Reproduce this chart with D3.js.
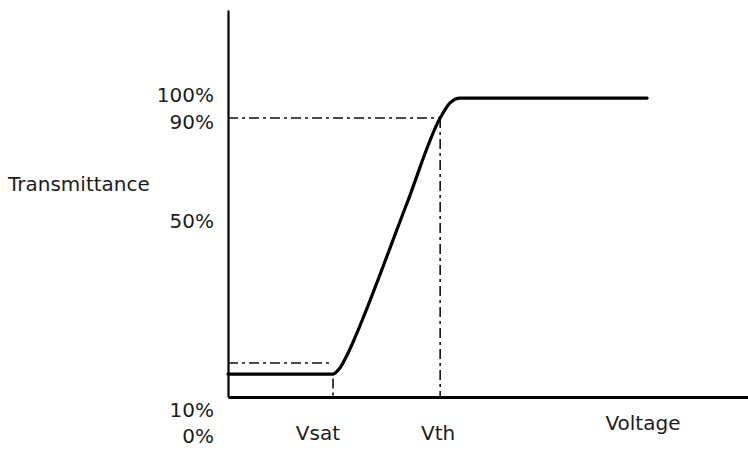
<!DOCTYPE html>
<html>
<head>
<meta charset="utf-8">
<script src="https://cdn.jsdelivr.net/npm/d3@7"></script>
<style>
  html, body { margin: 0; padding: 0; background: #fff; }
  svg { display: block; }
  text { font-family: "DejaVu Sans", Verdana, sans-serif; fill: #1c1c1c; }
</style>
</head>
<body>
<svg id="chart" width="748" height="451"></svg>
<script>
// ---- data (voltage in arbitrary units, transmittance in %) ----
const curveVoltage = [0, 2.02, 2.15, 2.31, 2.48, 2.62, 3.44, 4.08, 4.27, 4.46, 4.6, 8.06];
const curveTransmittance = [7.7, 7.7, 9.7, 14.8, 21.5, 27.5, 65.0, 93.7, 98.8, 100.4, 100.4, 100.4];

const yTickLabels = ["100%", "90%", "50%", "10%", "0%"];
const yTickLevels = [101.5, 92.5, 59, -4.5, -13];

const xLabels = ["Vsat", "Vth", "Voltage"];
const xLabelVoltages = [1.73, 4.04, 7.98];

const vth = 4.08, vthLevel = 93.7;
const vsat = 2.02, vsatLevel = 11.4, vsatFoot = 7.7;

const yAxisTitle = "Transmittance";

// ---- layout ----
const svg = d3.select("#chart");
const x = d3.scaleLinear().domain([0, 10]).range([228, 748]);
const y = d3.scaleLinear().domain([0, 130]).range([397, 10]);
const fontSize = "20px";

// axes (no ticks)
svg.append("g")
  .attr("transform", `translate(0,${y(0)})`)
  .call(d3.axisBottom(x).tickValues([]).tickSizeOuter(0))
  .call(g => g.select(".domain").attr("stroke", "#000").attr("stroke-width", 3));

svg.append("g")
  .attr("transform", `translate(${x(0)},0)`)
  .call(d3.axisLeft(y).tickValues([]).tickSizeOuter(0))
  .call(g => g.select(".domain").attr("stroke", "#000").attr("stroke-width", 2.2));

// dash-dot guide lines
const dash = "10,4,3,4";
const guides = [
  [[0, vthLevel], [vth, vthLevel]],
  [[vth, vthLevel], [vth, 0]],
  [[0, vsatLevel], [vsat, vsatLevel]],
  [[vsat, vsatFoot - 1.5], [vsat, 0]]
];
const line = d3.line().x(d => x(d[0])).y(d => y(d[1]));
svg.selectAll("path.guide").data(guides).enter().append("path")
  .attr("class", "guide")
  .attr("d", line)
  .attr("fill", "none")
  .attr("stroke", "#111")
  .attr("stroke-width", 1.6)
  .attr("stroke-dasharray", dash);

// transmittance curve
const pts = curveVoltage.map((v, i) => [v, curveTransmittance[i]]);
svg.append("path")
  .datum(pts)
  .attr("d", d3.line().x(d => x(d[0])).y(d => y(d[1])).curve(d3.curveMonotoneX))
  .attr("fill", "none")
  .attr("stroke", "#000")
  .attr("stroke-width", 3.2)
  .attr("stroke-linecap", "round")
  .attr("stroke-linejoin", "round");

// y labels
svg.selectAll("text.ylab").data(yTickLabels).enter().append("text")
  .attr("class", "ylab")
  .attr("x", 214)
  .attr("y", (d, i) => y(yTickLevels[i]))
  .attr("dy", "0.35em")
  .attr("text-anchor", "end")
  .style("font-size", fontSize)
  .text(d => d);

// y title
svg.append("text")
  .attr("x", 8)
  .attr("y", 191)
  .style("font-size", fontSize)
  .text(yAxisTitle);

// x labels
svg.selectAll("text.xlab").data(xLabels).enter().append("text")
  .attr("class", "xlab")
  .attr("x", (d, i) => x(xLabelVoltages[i]))
  .attr("y", (d, i) => i < 2 ? 440 : 430)
  .attr("text-anchor", "middle")
  .style("font-size", fontSize)
  .text(d => d);
</script>
</body>
</html>
